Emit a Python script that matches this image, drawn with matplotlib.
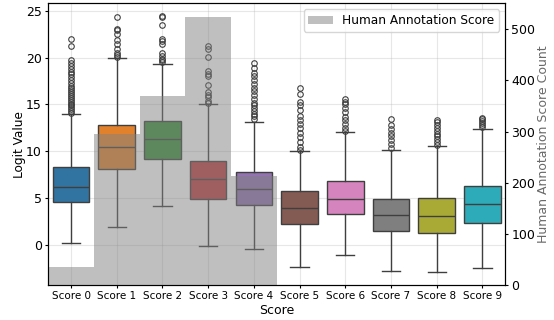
import matplotlib
matplotlib.use("Agg")
import matplotlib.pyplot as plt
import seaborn as sns

labels = [f"Score {i}" for i in range(10)]

# box statistics of logit values per score: low whisker, q1, median, q3, high whisker
whislo = [0.18, 1.95, 4.22, -0.14, -0.46, -2.3, -1.1, -2.8, -2.9, -2.45]
q1 = [4.6, 8.12, 9.22, 4.97, 4.33, 2.3, 3.3, 1.52, 1.31, 2.34]
med = [6.2, 10.46, 11.28, 7.02, 6.03, 4.0, 4.97, 3.19, 3.12, 4.36]
q3 = [8.37, 12.8, 13.22, 8.97, 7.8, 5.8, 6.8, 4.97, 5.03, 6.35]
whishi = [13.97, 19.93, 19.33, 15.03, 13.1, 10.0, 12.02, 10.2, 10.53, 12.4]
fliers = [
    [14.1, 14.3, 14.5, 14.7, 14.9, 15.1, 15.3, 15.5, 15.7, 15.9, 16.1, 16.3, 16.5,
     16.8, 17.0, 17.3, 17.6, 17.9, 18.2, 18.5, 18.8, 19.1, 19.4, 19.7, 21.2, 22.0],
    [20.1, 20.3, 20.5, 20.9, 21.4, 21.9, 22.5, 22.9, 23.0, 24.3],
    [19.5, 19.7, 19.9, 20.2, 20.5, 21.5, 21.8, 22.0, 23.5, 24.3, 24.4],
    [15.2, 15.4, 15.8, 16.0, 16.3, 17.1, 18.0, 18.3, 18.6, 20.1, 20.9, 21.2],
    [13.5, 13.8, 14.0, 14.3, 14.6, 14.9, 15.2, 15.6, 16.0, 16.4, 16.8, 17.2, 17.6,
     18.0, 18.4, 18.9, 19.4],
    [10.2, 10.5, 11.0, 11.5, 12.0, 12.5, 12.9, 13.3, 13.8, 14.4, 14.9, 15.3, 16.1, 16.8],
    [12.2, 12.5, 12.9, 13.3, 13.7, 14.2, 14.6, 15.0, 15.3, 15.6],
    [10.4, 10.8, 11.2, 11.6, 12.0, 12.4, 12.8, 13.5],
    [10.7, 11.0, 11.3, 11.6, 11.9, 12.2, 12.5, 12.8, 13.1, 13.3],
    [12.6, 12.8, 13.0, 13.2, 13.4, 13.6],
]

# human annotation score counts (scores 0-4)
count_scores = [0, 1, 2, 3, 4]
counts = [36, 295, 369, 525, 213]

stats = []
for i in range(10):
    stats.append(dict(label=labels[i], whislo=whislo[i], q1=q1[i], med=med[i],
                      q3=q3[i], whishi=whishi[i], fliers=fliers[i]))

colors = sns.color_palette("tab10", 10, desat=0.75)
edge = "#3f3f3f"

fig, ax = plt.subplots(figsize=(5.54, 3.2), dpi=100)
fig.subplots_adjust(left=0.087, right=0.912, top=0.99, bottom=0.109)

bp = ax.bxp(stats, positions=range(10), widths=0.8, patch_artist=True,
            boxprops=dict(edgecolor=edge, linewidth=1),
            medianprops=dict(color=edge, linewidth=1),
            whiskerprops=dict(color=edge, linewidth=1),
            capprops=dict(color=edge, linewidth=1),
            flierprops=dict(marker="o", markersize=4, markerfacecolor="none",
                            markeredgecolor=edge, markeredgewidth=0.8))
for box, c in zip(bp["boxes"], colors):
    box.set_facecolor(c)

ax.set_xlim(-0.5, 9.5)
ax.set_ylim(-4.26, 25.8)
ax.set_xticks(range(10))
ax.set_xticklabels(labels)
ax.tick_params(axis="x", labelsize=7.5, length=2.5, pad=2)
ax.tick_params(axis="y", labelsize=9, length=2.5, pad=2)
ax.set_yticks([0, 5, 10, 15, 20, 25])
ax.grid(True, alpha=0.3)
ax.set_axisbelow(True)
ax.set_xlabel("Score", fontsize=9, labelpad=2)
ax.set_ylabel("Logit Value", fontsize=8.7, labelpad=0)

ax2 = ax.twinx()
ax2.bar(count_scores, counts, width=1.0, color="grey", alpha=0.5,
        label="Human Annotation Score")
ax2.set_ylim(0, 551)
ax2.set_yticks([0, 100, 200, 300, 400, 500])
ax2.tick_params(axis="y", labelsize=9, length=2.5, pad=2)
ax2.set_ylabel("Human Annotation Score Count", fontsize=9, color="dimgray",
               labelpad=1)
ax2.legend(loc="upper right", fontsize=8.7)

fig.savefig("out.png", dpi=100)
